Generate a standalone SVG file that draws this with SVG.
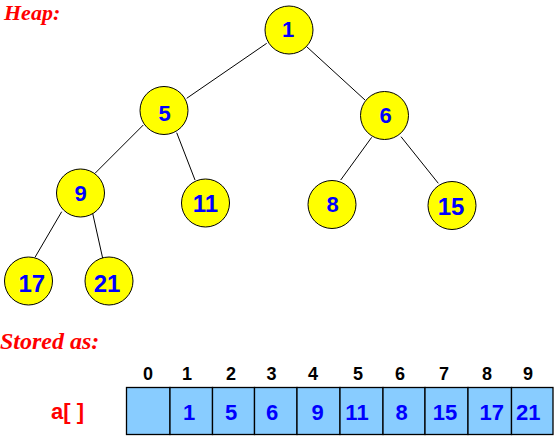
<svg xmlns="http://www.w3.org/2000/svg" width="555" height="437" viewBox="0 0 555 437">
<style>
.title{font-family:"Liberation Serif",serif;font-weight:bold;font-style:italic;fill:#ff0000}
.node circle{fill:#ffff00;stroke:#000;stroke-width:1}
.node text{font-family:"Liberation Sans",Arial,sans-serif;font-weight:bold;font-size:22px;fill:#0000ff;text-anchor:middle}
.node text.dd{font-size:24px}
.edges line{stroke:#000;stroke-width:1}
.cell{fill:#88ccff;stroke:#000;stroke-width:1.3}
.idx{font-family:"Liberation Sans",Arial,sans-serif;font-weight:bold;font-size:18px;fill:#000;text-anchor:middle}
.val{font-family:"Liberation Sans",Arial,sans-serif;font-weight:bold;font-size:22px;fill:#0000ff;text-anchor:middle}
.lbl{font-family:"Liberation Sans",Arial,sans-serif;font-weight:bold;font-size:22px;fill:#ff0000;text-anchor:middle}
</style>
<rect width="555" height="437" fill="#fff"/>
<text class="title" x="4" y="20" font-size="22">Heap:</text>
<text class="title" x="0" y="349" font-size="24">Stored as:</text>
<g class="edges" id="edges">
<line x1="266.7" y1="43.3" x2="186.7" y2="98.3"/>
<line x1="306.7" y1="46.7" x2="365" y2="100"/>
<line x1="143.3" y1="125" x2="95" y2="173.3"/>
<line x1="176.7" y1="132.7" x2="195" y2="180"/>
<line x1="61.7" y1="211.7" x2="35" y2="257.3"/>
<line x1="92.3" y1="211.7" x2="102.7" y2="258.3"/>
<line x1="371.7" y1="137.3" x2="340.7" y2="180"/>
<line x1="401" y1="136.7" x2="438.3" y2="183.3"/>
</g>
<g class="node" id="n1"><circle cx="289" cy="30" r="24"/><text x="288" y="36.7">1</text></g>
<g class="node" id="n5"><circle cx="164" cy="110.5" r="24"/><text x="164.5" y="120.5">5</text></g>
<g class="node" id="n6"><circle cx="384.5" cy="115.5" r="24"/><text x="385.5" y="123.3">6</text></g>
<g class="node" id="n9"><circle cx="80.5" cy="193" r="24"/><text x="80.7" y="200.7">9</text></g>
<g class="node" id="n11"><circle cx="205.5" cy="203" r="24"/><text class="dd" x="205.5" y="212">11</text></g>
<g class="node" id="n8"><circle cx="332" cy="204.5" r="24"/><text x="332.5" y="211.5">8</text></g>
<g class="node" id="n15"><circle cx="452" cy="205.5" r="24"/><text class="dd" x="451" y="215">15</text></g>
<g class="node" id="n17"><circle cx="28.5" cy="281" r="24"/><text class="dd" x="31.8" y="291.5">17</text></g>
<g class="node" id="n21"><circle cx="109" cy="281" r="24"/><text class="dd" x="107" y="291.5">21</text></g>
<g id="array">
<text class="lbl" x="67.5" y="419">a[ ]</text>
<rect class="cell" x="126.5" y="387.5" width="43.5" height="47"/>
<rect class="cell" x="170" y="387.5" width="42.5" height="47"/>
<rect class="cell" x="212.5" y="387.5" width="42" height="47"/>
<rect class="cell" x="254.5" y="387.5" width="42.5" height="47"/>
<rect class="cell" x="297" y="387.5" width="43" height="47"/>
<rect class="cell" x="340" y="387.5" width="43" height="47"/>
<rect class="cell" x="383" y="387.5" width="42" height="47"/>
<rect class="cell" x="425" y="387.5" width="43" height="47"/>
<rect class="cell" x="468" y="387.5" width="43.5" height="47"/>
<rect class="cell" x="511.5" y="387.5" width="41.5" height="47"/>
<text class="idx" x="148" y="379.5">0</text>
<text class="idx" x="187" y="379.5">1</text>
<text class="idx" x="231" y="379.5">2</text>
<text class="idx" x="271.6" y="379.5">3</text>
<text class="idx" x="313" y="379.5">4</text>
<text class="idx" x="358" y="379.5">5</text>
<text class="idx" x="400" y="379.5">6</text>
<text class="idx" x="444" y="379.5">7</text>
<text class="idx" x="487" y="379.5">8</text>
<text class="idx" x="528" y="379.5">9</text>
<text class="val" x="189" y="420">1</text>
<text class="val" x="231" y="420">5</text>
<text class="val" x="272" y="420">6</text>
<text class="val" x="317.5" y="420">9</text>
<text class="val" x="357" y="420">11</text>
<text class="val" x="401.7" y="420">8</text>
<text class="val" x="445" y="420">15</text>
<text class="val" x="491.7" y="420">17</text>
<text class="val" x="528.3" y="420">21</text>
</g>
</svg>
